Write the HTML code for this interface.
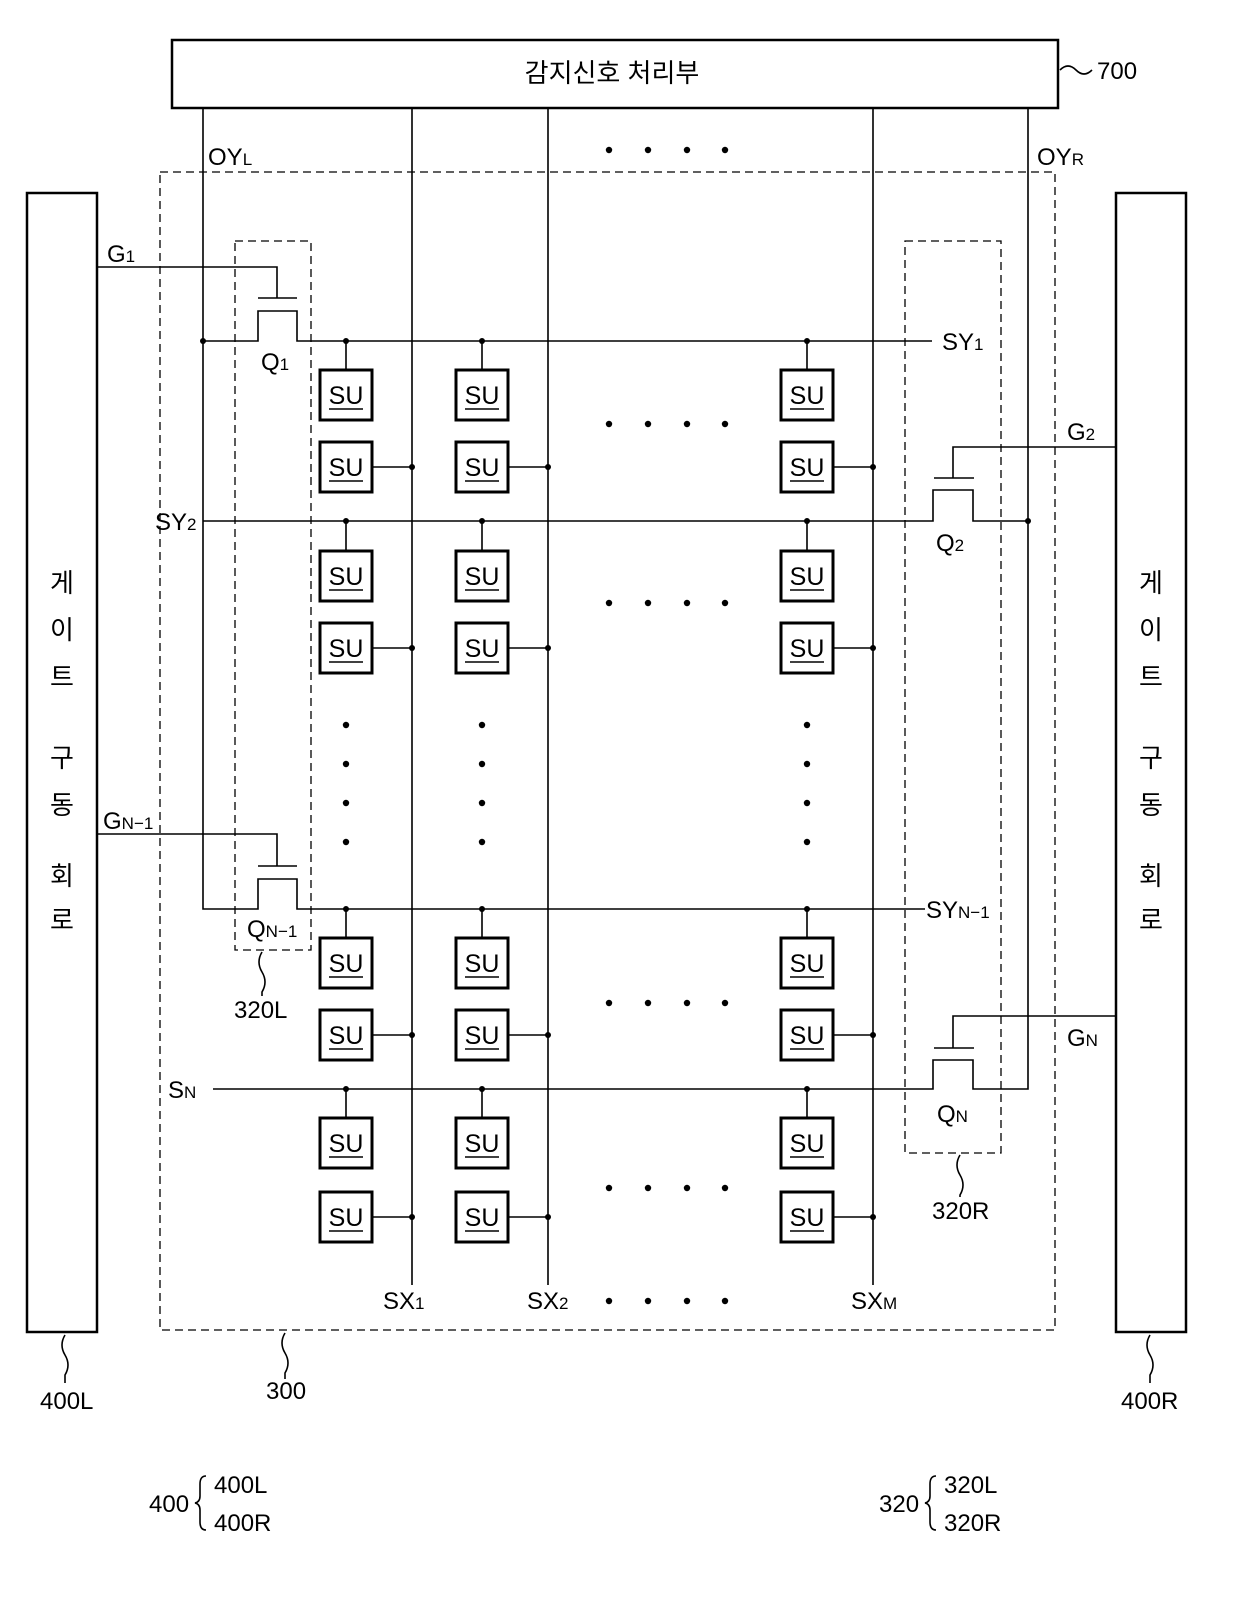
<!DOCTYPE html>
<html><head><meta charset="utf-8"><style>
html,body{margin:0;padding:0;background:#fff;}
svg{display:block;}
text{font-family:"Liberation Sans","Noto Sans CJK KR",sans-serif;fill:#000;}
</style></head><body>
<svg width="1240" height="1599" viewBox="0 0 1240 1599" xmlns="http://www.w3.org/2000/svg">
<defs>
<g id="su"><rect x="-26" y="-25" width="52" height="50" fill="#fff" stroke="#000" stroke-width="3"/><line x1="-17" y1="14" x2="17" y2="14" stroke="#000" stroke-width="1.5"/></g>
</defs>
<g stroke="#000" stroke-width="1.6" fill="none">
<!-- top box -->
<rect x="172" y="40" width="886" height="68" stroke-width="2.5"/>
<path d="M1060 70 q8 -8 16 0 t16 0"/>
<!-- dashed boxes -->
<rect x="160" y="172" width="895" height="1158" stroke-dasharray="8,5" stroke-width="1.3"/>
<rect x="235" y="241" width="76" height="709" stroke-dasharray="8,5" stroke-width="1.3"/>
<rect x="905" y="241" width="96" height="912" stroke-dasharray="8,5" stroke-width="1.3"/>
<!-- gate boxes -->
<rect x="27" y="193" width="70" height="1139" stroke-width="2.5"/>
<rect x="1116" y="193" width="70" height="1139" stroke-width="2.5"/>
<!-- vertical lines -->
<path d="M203 108 V909 H258 V879 H297 V909 H925"/>
<path d="M412 108 V1285 M548 108 V1285 M873 108 V1285"/>
<path d="M1028 108 V1089 H973 V1060 H933 V1089 H213"/>
<!-- Q1 -->
<path d="M97 267 H277 V298 M258 298 H297"/>
<path d="M203 341 H258 V311 H297 V341 H932"/>
<!-- QN-1 -->
<path d="M97 834 H277 V866 M258 866 H297"/>
<!-- Q2 -->
<path d="M1116 447 H953 V478 M934 478 H974"/>
<path d="M203 521 H933 V490 H973 V521 H1028"/>
<!-- QN -->
<path d="M1116 1016 H953 V1048 M934 1048 H974"/>
<!-- SU connections -->
<path d="M346 341V370 M482 341V370 M807 341V370 M346 521V551 M482 521V551 M807 521V551 M346 909V938 M482 909V938 M807 909V938 M346 1089V1118 M482 1089V1118 M807 1089V1118"/>
<path d="M372 467H412 M508 467H548 M833 467H873 M372 648H412 M508 648H548 M833 648H873 M372 1035H412 M508 1035H548 M833 1035H873 M372 1217H412 M508 1217H548 M833 1217H873"/>
<!-- squiggles -->
<path d="M65 1335 q-6 10 0 20 t0 20 v8"/>
<path d="M285 1333 q-6 10 0 20 t0 20 v6"/>
<path d="M1150 1335 q-6 10 0 20 t0 20 v8"/>
<path d="M262 952 q-6 10 0 20 t0 20 v4"/>
<path d="M960 1155 q-6 10 0 20 t0 20 v2"/>
<path d="M206 1476 q-6 0 -6 8 v12 q0 6 -5 7 q5 1 5 7 v12 q0 8 6 8"/>
<path d="M936 1476 q-6 0 -6 8 v12 q0 6 -5 7 q5 1 5 7 v12 q0 8 6 8"/>
</g>
<!-- dots -->
<g fill="#000">
<circle cx="203" cy="341" r="3"/><circle cx="346" cy="341" r="3"/><circle cx="482" cy="341" r="3"/><circle cx="807" cy="341" r="3"/>
<circle cx="346" cy="521" r="3"/><circle cx="482" cy="521" r="3"/><circle cx="807" cy="521" r="3"/><circle cx="1028" cy="521" r="3"/>
<circle cx="346" cy="909" r="3"/><circle cx="482" cy="909" r="3"/><circle cx="807" cy="909" r="3"/>
<circle cx="346" cy="1089" r="3"/><circle cx="482" cy="1089" r="3"/><circle cx="807" cy="1089" r="3"/>
<circle cx="412" cy="467" r="3"/><circle cx="548" cy="467" r="3"/><circle cx="873" cy="467" r="3"/>
<circle cx="412" cy="648" r="3"/><circle cx="548" cy="648" r="3"/><circle cx="873" cy="648" r="3"/>
<circle cx="412" cy="1035" r="3"/><circle cx="548" cy="1035" r="3"/><circle cx="873" cy="1035" r="3"/>
<circle cx="412" cy="1217" r="3"/><circle cx="548" cy="1217" r="3"/><circle cx="873" cy="1217" r="3"/>
<!-- ellipsis dots -->
<g id="hd"><circle cx="609" cy="150" r="3.2"/><circle cx="648" cy="150" r="3.2"/><circle cx="687" cy="150" r="3.2"/><circle cx="725" cy="150" r="3.2"/></g>
<use href="#hd" y="274"/><use href="#hd" y="453"/><use href="#hd" y="853"/><use href="#hd" y="1038"/><use href="#hd" y="1151"/>
<g id="vd"><circle cx="346" cy="725" r="3.2"/><circle cx="346" cy="764" r="3.2"/><circle cx="346" cy="803" r="3.2"/><circle cx="346" cy="842" r="3.2"/></g>
<use href="#vd" x="136"/><use href="#vd" x="461"/>
</g>
<!-- SU blocks -->
<g font-size="25" text-anchor="middle">
<g transform="translate(346,395)"><use href="#su"/><text y="9">SU</text></g>
<g transform="translate(482,395)"><use href="#su"/><text y="9">SU</text></g>
<g transform="translate(807,395)"><use href="#su"/><text y="9">SU</text></g>
<g transform="translate(346,467)"><use href="#su"/><text y="9">SU</text></g>
<g transform="translate(482,467)"><use href="#su"/><text y="9">SU</text></g>
<g transform="translate(807,467)"><use href="#su"/><text y="9">SU</text></g>
<g transform="translate(346,576)"><use href="#su"/><text y="9">SU</text></g>
<g transform="translate(482,576)"><use href="#su"/><text y="9">SU</text></g>
<g transform="translate(807,576)"><use href="#su"/><text y="9">SU</text></g>
<g transform="translate(346,648)"><use href="#su"/><text y="9">SU</text></g>
<g transform="translate(482,648)"><use href="#su"/><text y="9">SU</text></g>
<g transform="translate(807,648)"><use href="#su"/><text y="9">SU</text></g>
<g transform="translate(346,963)"><use href="#su"/><text y="9">SU</text></g>
<g transform="translate(482,963)"><use href="#su"/><text y="9">SU</text></g>
<g transform="translate(807,963)"><use href="#su"/><text y="9">SU</text></g>
<g transform="translate(346,1035)"><use href="#su"/><text y="9">SU</text></g>
<g transform="translate(482,1035)"><use href="#su"/><text y="9">SU</text></g>
<g transform="translate(807,1035)"><use href="#su"/><text y="9">SU</text></g>
<g transform="translate(346,1143)"><use href="#su"/><text y="9">SU</text></g>
<g transform="translate(482,1143)"><use href="#su"/><text y="9">SU</text></g>
<g transform="translate(807,1143)"><use href="#su"/><text y="9">SU</text></g>
<g transform="translate(346,1217)"><use href="#su"/><text y="9">SU</text></g>
<g transform="translate(482,1217)"><use href="#su"/><text y="9">SU</text></g>
<g transform="translate(807,1217)"><use href="#su"/><text y="9">SU</text></g>
</g>
<!-- labels -->
<g font-size="24">
<text x="612" y="82" text-anchor="middle" font-size="26">감지신호 처리부</text>
<text x="1097" y="79">700</text>
<text x="208" y="165">OY<tspan font-size="17">L</tspan></text>
<text x="1037" y="165">OY<tspan font-size="17">R</tspan></text>
<text x="107" y="262">G<tspan font-size="17">1</tspan></text>
<text x="261" y="370">Q<tspan font-size="17">1</tspan></text>
<text x="942" y="350">SY<tspan font-size="17">1</tspan></text>
<text x="1067" y="440">G<tspan font-size="17">2</tspan></text>
<text x="155" y="530">SY<tspan font-size="17">2</tspan></text>
<text x="936" y="551">Q<tspan font-size="17">2</tspan></text>
<text x="103" y="829">G<tspan font-size="17">N−1</tspan></text>
<text x="247" y="937">Q<tspan font-size="17">N−1</tspan></text>
<text x="926" y="918">SY<tspan font-size="17">N−1</tspan></text>
<text x="234" y="1018">320L</text>
<text x="1067" y="1046">G<tspan font-size="17">N</tspan></text>
<text x="168" y="1098">S<tspan font-size="17">N</tspan></text>
<text x="937" y="1122">Q<tspan font-size="17">N</tspan></text>
<text x="932" y="1219">320R</text>
<text x="383" y="1309">SX<tspan font-size="17">1</tspan></text>
<text x="527" y="1309">SX<tspan font-size="17">2</tspan></text>
<text x="851" y="1309">SX<tspan font-size="17">M</tspan></text>
<text x="40" y="1409">400L</text>
<text x="266" y="1399">300</text>
<text x="1121" y="1409">400R</text>
<text x="149" y="1512">400</text>
<text x="214" y="1493">400L</text>
<text x="214" y="1531">400R</text>
<text x="879" y="1512">320</text>
<text x="944" y="1493">320L</text>
<text x="944" y="1531">320R</text>
</g>
<g font-size="26" text-anchor="middle">
<text x="62" y="592">게</text><text x="62" y="639">이</text><text x="62" y="686">트</text>
<text x="62" y="767">구</text><text x="62" y="814">동</text><text x="62" y="885">회</text><text x="62" y="929">로</text>
<text x="1151" y="592">게</text><text x="1151" y="639">이</text><text x="1151" y="686">트</text>
<text x="1151" y="767">구</text><text x="1151" y="814">동</text><text x="1151" y="885">회</text><text x="1151" y="929">로</text>
</g>
</svg>
</body></html>
